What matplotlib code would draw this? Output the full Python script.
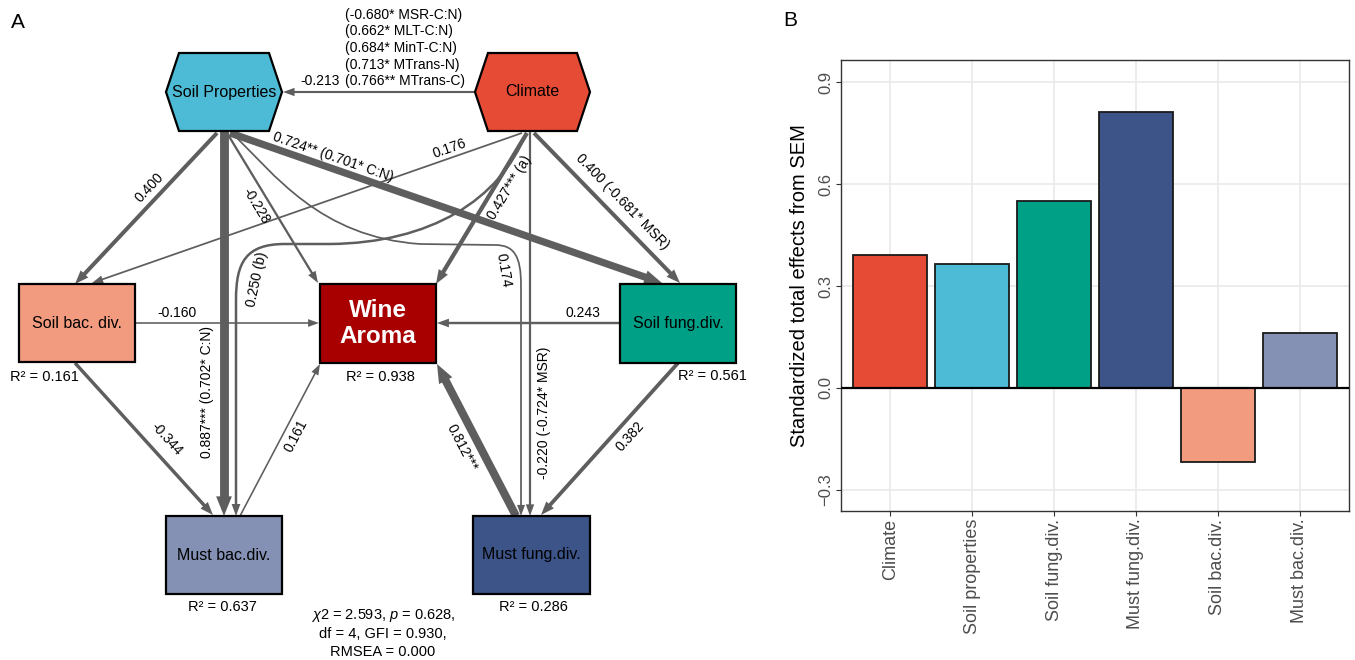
import matplotlib
matplotlib.use("Agg")
import numpy as np
import matplotlib.pyplot as plt
from matplotlib.path import Path
from matplotlib.patches import PathPatch, Polygon, Rectangle

plt.rcParams['font.family'] = ['Liberation Sans', 'DejaVu Sans']
plt.rcParams['mathtext.fontset'] = 'custom'
plt.rcParams['mathtext.rm'] = 'Liberation Sans'
plt.rcParams['mathtext.it'] = 'Liberation Sans:italic'

# ---------------- data ----------------
# path model: edges and standardized coefficients
edge_from = ["Climate", "Soil Properties", "Soil Properties", "Soil Properties",
             "Soil Properties", "Soil Properties", "Climate", "Climate", "Climate",
             "Climate", "Climate", "Soil bac. div.", "Soil fung.div.",
             "Soil bac. div.", "Must bac.div.", "Must fung.div.", "Soil fung.div."]
edge_to = ["Soil Properties", "Soil bac. div.", "Must bac.div.", "Wine Aroma",
           "Soil fung.div.", "Must fung.div.", "Soil bac. div.", "Wine Aroma",
           "Must fung.div.", "Soil fung.div.", "Must bac.div.", "Wine Aroma",
           "Wine Aroma", "Must bac.div.", "Wine Aroma", "Wine Aroma", "Must fung.div."]
edge_coef = [-0.213, 0.400, 0.887, -0.228, 0.724, 0.174, 0.176, 0.427, -0.220,
             0.400, 0.250, -0.160, 0.243, -0.344, 0.161, 0.812, 0.382]
edge_note = ["", "", "*** (0.702* C:N)", "", "** (0.701* C:N)", "", "", "*** (a)",
             " (-0.724* MSR)", " (-0.681* MSR)", " (b)", "", "", "", "", "***", ""]

# climate–soil correlations listed over the Climate -> Soil Properties path
corr_value = [-0.680, 0.662, 0.684, 0.713, 0.766]
corr_stars = ["*", "*", "*", "*", "**"]
corr_var = ["MSR-C:N", "MLT-C:N", "MinT-C:N", "MTrans-N", "MTrans-C"]

r2_nodes = ["Soil bac. div.", "Wine Aroma", "Soil fung.div.", "Must bac.div.", "Must fung.div."]
r2_values = [0.161, 0.938, 0.561, 0.637, 0.286]

fit_chi2, fit_p, fit_df, fit_gfi, fit_rmsea = 2.593, 0.628, 4, 0.930, 0.000

# total effects on wine aroma
effect_labels = ["Climate", "Soil properties", "Soil fung.div.", "Must fung.div.",
                 "Soil bac.div.", "Must bac.div."]
total_effects = [0.390, 0.366, 0.550, 0.812, -0.218, 0.161]

# ---------------- styling ----------------
node_colors = {
    "Climate": "#E64B35", "Soil Properties": "#4DBBD5", "Soil bac. div.": "#F39B7F",
    "Soil fung.div.": "#00A087", "Wine Aroma": "#A80000", "Must bac.div.": "#8491B4",
    "Must fung.div.": "#3C5488",
}
bar_colors = ["#E64B35", "#4DBBD5", "#00A087", "#3C5488", "#F39B7F", "#8491B4"]
EDGE_COLOR = "#5E5E5E"
PX = 0.72  # points per pixel at 100 dpi

fig = plt.figure(figsize=(13.55, 6.6), dpi=100)

# ---------------- panel A: path diagram (pixel-like coordinates) ----------------
ax = fig.add_axes([0, 0, 760 / 1355, 1])
ax.set_xlim(0, 760)
ax.set_ylim(660, 0)
ax.axis("off")

hexagons = {
    "Soil Properties": [(166, 92), (179, 53), (269, 53), (282, 92), (269, 131), (179, 131)],
    "Climate": [(475, 92), (488, 53), (577, 53), (590, 92), (577, 131), (488, 131)],
}
boxes = {
    "Soil bac. div.": (19, 284, 135, 362),
    "Wine Aroma": (320, 284, 436, 363),
    "Soil fung.div.": (620, 284, 736, 363),
    "Must bac.div.": (166, 516, 282, 594),
    "Must fung.div.": (473, 516, 590, 594),
}

for name, verts in hexagons.items():
    ax.add_patch(Polygon(verts, closed=True, facecolor=node_colors[name],
                         edgecolor="black", lw=1.6, zorder=3))
    cx = np.mean([v[0] for v in verts])
    ax.text(cx, 92, name, ha="center", va="center", fontsize=11.5, zorder=4)

for name, (x0, y0, x1, y1) in boxes.items():
    ax.add_patch(Rectangle((x0, y0), x1 - x0, y1 - y0, facecolor=node_colors[name],
                           edgecolor="black", lw=1.6, zorder=3))
    if name == "Wine Aroma":
        ax.text((x0 + x1) / 2, (y0 + y1) / 2, "Wine\nAroma", ha="center", va="center",
                fontsize=17.5, fontweight="bold", color="white", linespacing=1.15, zorder=4)
    else:
        ax.text((x0 + x1) / 2, (y0 + y1) / 2, name, ha="center", va="center",
                fontsize=11.5, zorder=4)

r2_pos = {"Soil bac. div.": (44, 377), "Wine Aroma": (380, 377),
          "Soil fung.div.": (712, 376), "Must bac.div.": (222, 607),
          "Must fung.div.": (533, 607)}
for name, val in zip(r2_nodes, r2_values):
    x, y = r2_pos[name]
    ax.text(x, y, f"R² = {val:.3f}", ha="center", va="center", fontsize=10.5)

# routes for each edge (vertices, path codes) in drawing order
M, C, L = Path.MOVETO, Path.CURVE4, Path.LINETO
routes = [
    ([(475, 92), (283, 92)], [M, L]),
    ([(217, 133), (75, 284)], [M, L]),
    ([(224, 131), (224, 516)], [M, L]),
    ([(227, 133), (318, 283)], [M, L]),
    ([(230, 133), (662, 283)], [M, L]),
    ([(232, 133), (275, 175), (320, 237), (420, 244), (495, 245), (514, 245),
      (521, 256), (521, 285), (521, 516)], [M, C, C, C, L, C, C, C, L]),
    ([(522, 133), (92, 283)], [M, L]),
    ([(527, 133), (436, 284)], [M, L]),
    ([(530, 131), (530, 516)], [M, L]),
    ([(534, 133), (680, 283)], [M, L]),
    ([(526, 133), (500, 200), (430, 243), (330, 244), (285, 244), (246, 244),
      (236, 262), (236, 300), (236, 516)], [M, C, C, C, L, C, C, C, L]),
    ([(136, 323), (319, 323)], [M, L]),
    ([(620, 323), (437, 323)], [M, L]),
    ([(75, 363), (213, 515)], [M, L]),
    ([(240, 516), (320, 364)], [M, L]),
    ([(516, 516), (437, 364)], [M, L]),
    ([(678, 363), (541, 515)], [M, L]),
]
label_place = [
    (320, 81, 0), (149, 188, 46.8), (207, 392, 90), (256, 206, -58.8),
    (333, 157, -19.1), (503, 270, -80), (450, 149, 19.2), (510, 188, 58.9),
    (544, 413, 90), (622, 202, -45.8), (257, 279, 78), (177, 313, 0),
    (583, 313, 0), (167, 439, -47.8), (296, 436, 62.2), (462, 448, -62.5),
    (630, 436, 47.9),
]


def draw_edge(verts, codes, coef):
    lw_px = max(10 * abs(coef), 1.4)
    head_len = 9 + 1.2 * lw_px
    head_half = (6 + 1.1 * lw_px) / 2
    verts = np.array(verts, dtype=float)
    tip = verts[-1].copy()
    d = tip - verts[-2]
    d /= np.hypot(*d)
    verts[-1] = tip - d * head_len * 0.9
    ax.add_patch(PathPatch(Path(verts, codes), fill=False, edgecolor=EDGE_COLOR,
                           lw=lw_px * PX, capstyle="butt", joinstyle="round", zorder=2))
    base = tip - d * head_len
    n = np.array([-d[1], d[0]])
    ax.add_patch(Polygon([tip, base + n * head_half, base - n * head_half], closed=True,
                         facecolor=EDGE_COLOR, edgecolor="none", zorder=2))


for (verts, codes), coef, note, (lx, ly, rot) in zip(routes, edge_coef, edge_note, label_place):
    draw_edge(verts, codes, coef)
    ax.text(lx, ly, f"{coef:.3f}{note}", ha="center", va="center", rotation=rot,
            rotation_mode="anchor", fontsize=10, zorder=5)

for i, (v, s, var) in enumerate(zip(corr_value, corr_stars, corr_var)):
    ax.text(345, 15 + i * 16.5, f"({v:.3f}{s} {var})", ha="left", va="center", fontsize=10)

fit_lines = [rf"$\chi$2 = {fit_chi2:.3f}, $p$ = {fit_p:.3f},",
             f"df = {fit_df}, GFI = {fit_gfi:.3f},",
             f"RMSEA = {fit_rmsea:.3f}"]
for i, s in enumerate(fit_lines):
    ax.text(383, 616 + i * 18, s, ha="center", va="center", fontsize=10.5)

fig.text(18 / 1355, 1 - 22 / 660, "A", ha="center", va="center", fontsize=15)
fig.text(790 / 1355, 1 - 20 / 660, "B", ha="center", va="center", fontsize=15)

# ---------------- panel B: total effects ----------------
bx = fig.add_axes([841 / 1355, 1 - 511 / 660, (1349 - 841) / 1355, (511 - 60) / 660])
xpos = np.arange(1, len(effect_labels) + 1)
bx.bar(xpos, total_effects, width=0.9, color=bar_colors, edgecolor="#1A1A1A",
       linewidth=1.3, zorder=3)
bx.axhline(0, color="black", lw=1.6, zorder=4)
bx.set_xlim(0.4, 6.6)
bx.set_ylim(-0.362, 0.965)
yt = [-0.3, 0.0, 0.3, 0.6, 0.9]
bx.set_yticks(yt)
bx.set_yticklabels([f"{t:.1f}".replace("-", "\u2212") for t in yt], rotation=90,
                   va="center", fontsize=12, color="#4D4D4D")
bx.set_xticks(xpos)
bx.set_xticklabels(effect_labels, rotation=90, fontsize=13, color="#4D4D4D")
bx.grid(True, color="#EBEBEB", lw=1.3, zorder=0)
bx.set_axisbelow(True)
bx.tick_params(axis="both", length=3.5, width=0.8, color="#333333", pad=2)
for sp in bx.spines.values():
    sp.set_color("#333333")
    sp.set_linewidth(1.0)
bx.set_ylabel("Standardized total effects from SEM", fontsize=14.5, labelpad=7)

fig.savefig("out.png", dpi=100)
